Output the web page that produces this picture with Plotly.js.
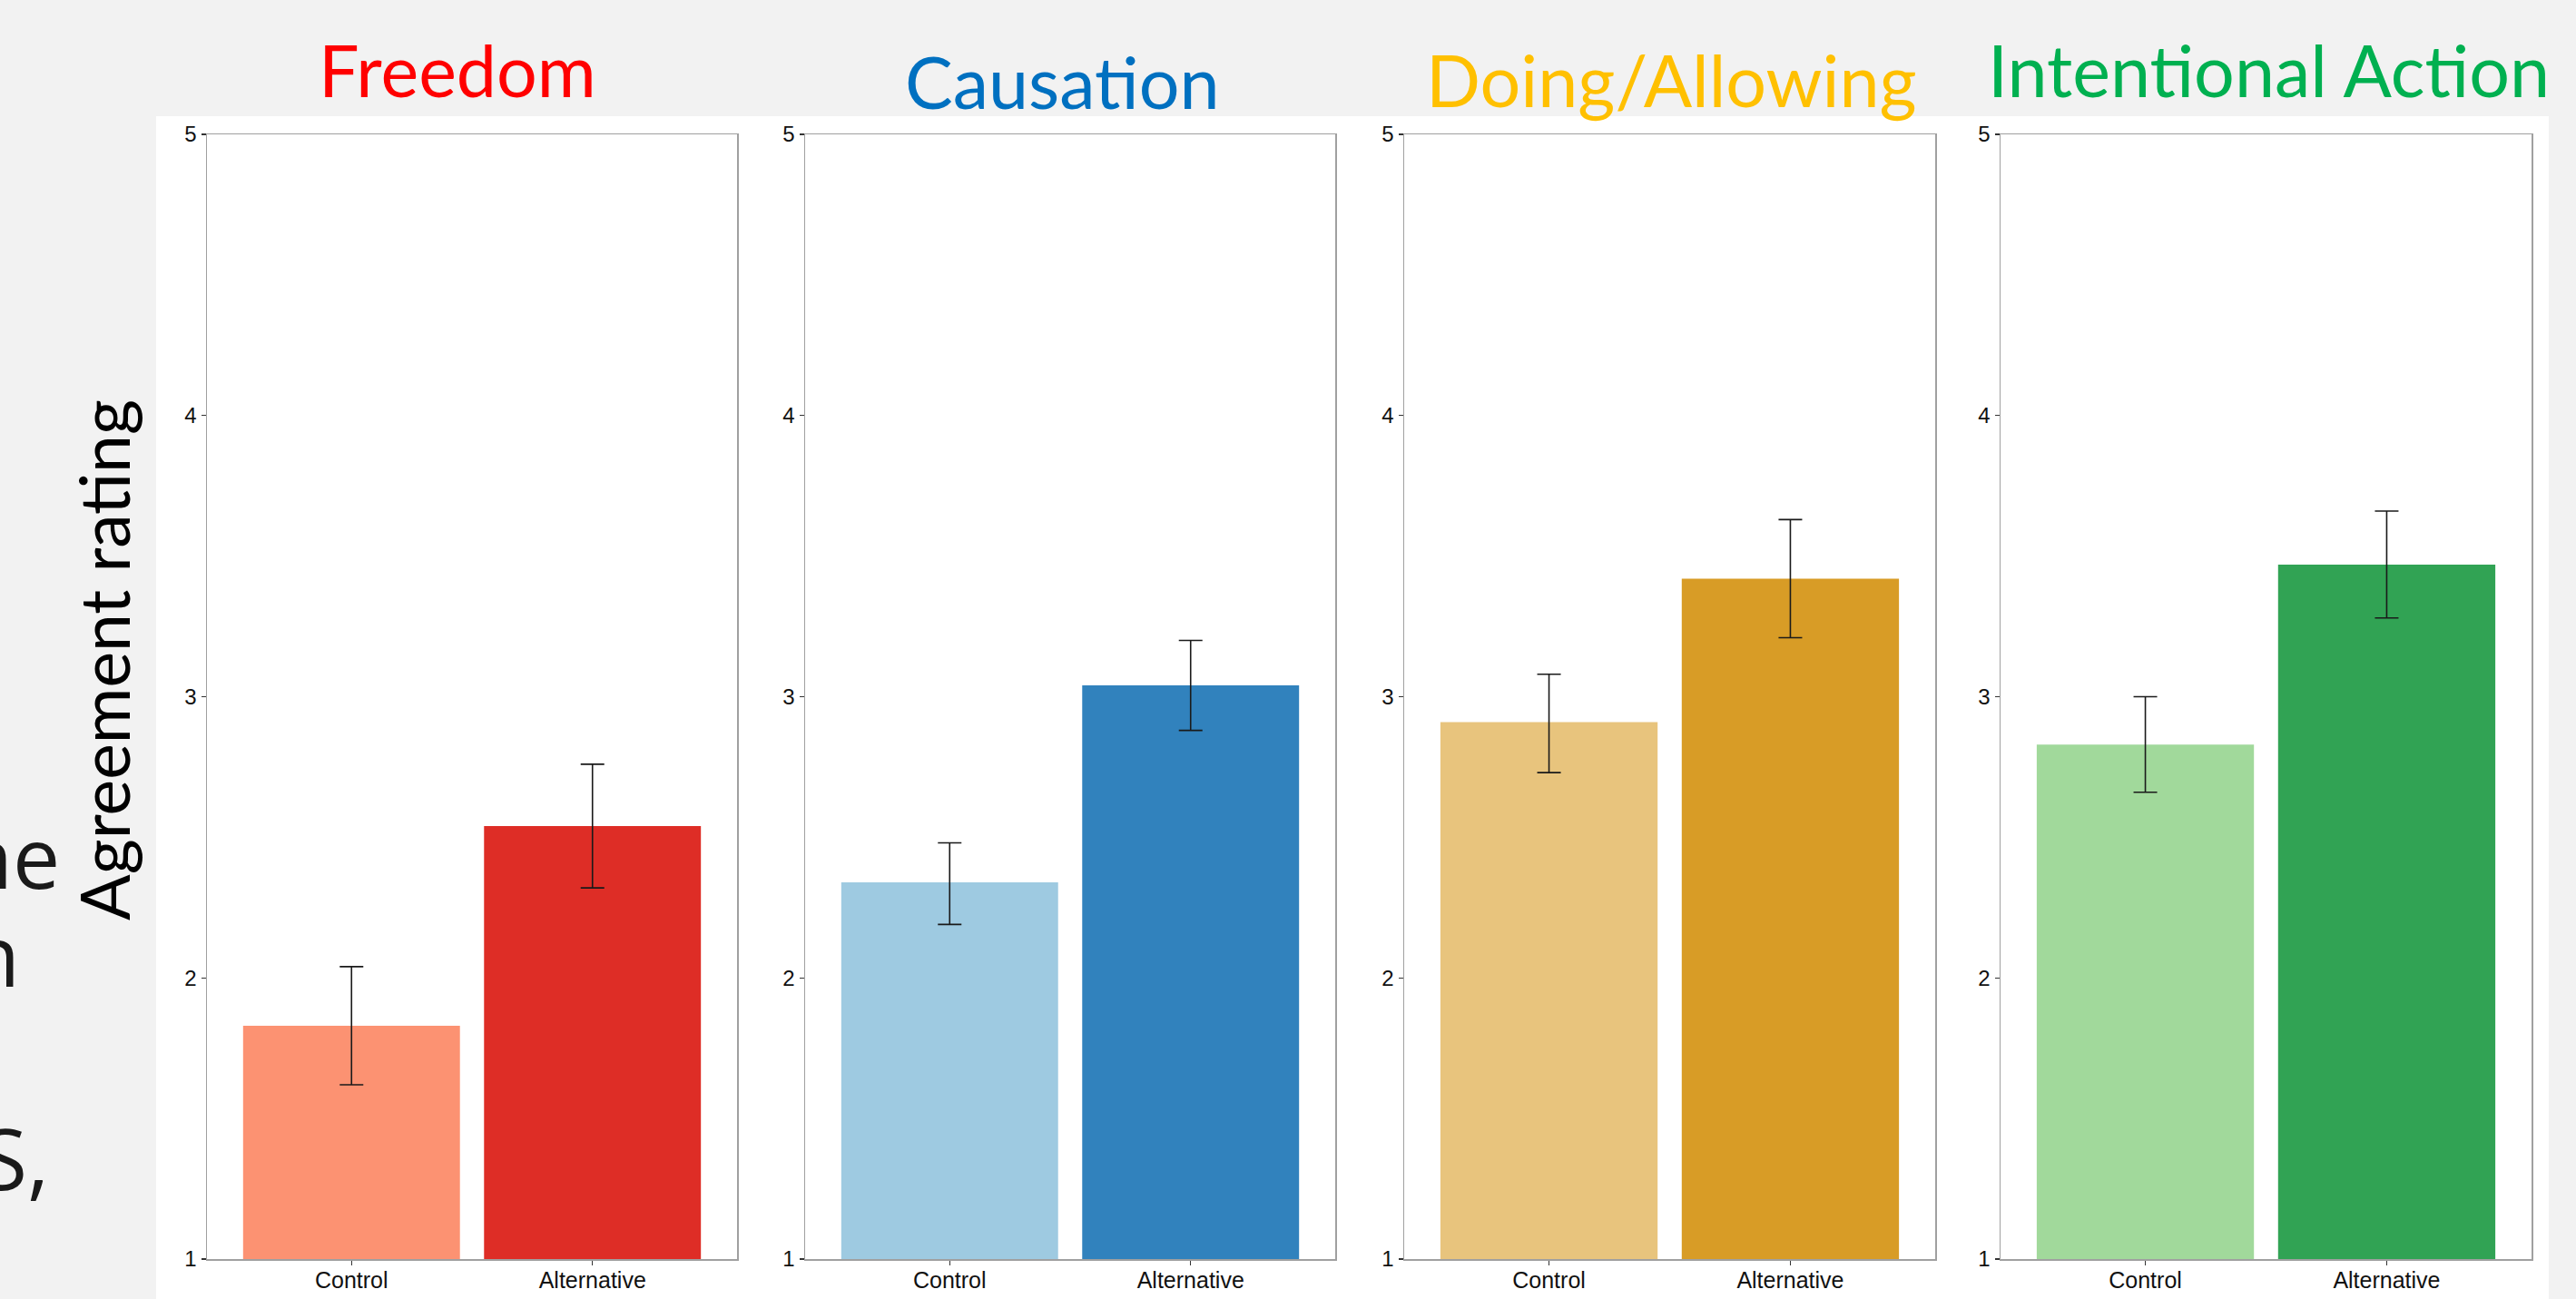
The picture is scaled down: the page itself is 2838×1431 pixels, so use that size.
<!DOCTYPE html>
<html>
<head>
<meta charset="utf-8">
<script src="https://cdn.plot.ly/plotly-3.0.1.min.js"></script>
<style>
  html, body { margin: 0; padding: 0; background: #f2f2f2; }
  #chart { width: 2838px; height: 1431px; }
</style>
</head>
<body>
<div id="chart"></div>
<script>
// ---------- data ----------
const categories = ["Control", "Alternative"];
const panelTitles = ["Freedom", "Causation", "Doing/Allowing", "Intentional Action"];
const titleColors = ["#FF0000", "#0070C0", "#FFC000", "#00B050"];

const freedomMeans = [1.83, 2.54];
const freedomUpper = [2.04, 2.76];
const freedomLower = [1.62, 2.32];

const causationMeans = [2.34, 3.04];
const causationUpper = [2.48, 3.20];
const causationLower = [2.19, 2.88];

const doingMeans = [2.91, 3.42];
const doingUpper = [3.08, 3.63];
const doingLower = [2.73, 3.21];

const intentionalMeans = [2.83, 3.47];
const intentionalUpper = [3.00, 3.66];
const intentionalLower = [2.66, 3.28];

const freedomColors = ["#FC9272", "#DE2D26"];
const causationColors = ["#9ECAE1", "#3182BD"];
const doingColors = ["#E8C47D", "#D89C26"];
const intentionalColors = ["#A1D99B", "#31A354"];

const yTickVals = [1, 2, 3, 4, 5];
const yAxisLabel = "Agreement rating";
const sideTextLines = ["ne", "n", "S,"];

// ---------- layout helpers ----------
const W = 2838, H = 1431;
const fx = v => v / W;
const fy = v => 1 - v / H;

const panelX = [[228, 812], [887, 1471], [1547, 2132], [2204, 2789]];
const plotTop = 148, plotBottom = 1387;

const means = [freedomMeans, causationMeans, doingMeans, intentionalMeans];
const uppers = [freedomUpper, causationUpper, doingUpper, intentionalUpper];
const lowers = [freedomLower, causationLower, doingLower, intentionalLower];
const colors = [freedomColors, causationColors, doingColors, intentionalColors];

const traces = [];
const layout = {
  width: W, height: H,
  margin: { l: 0, r: 0, t: 0, b: 0 },
  paper_bgcolor: "#f2f2f2",
  plot_bgcolor: "#ffffff",
  showlegend: false,
  hovermode: false,
  bargap: 0.1,
  shapes: [{
    type: "rect", xref: "paper", yref: "paper", layer: "below",
    x0: fx(172), x1: fx(2808), y0: fy(1431), y1: fy(128),
    fillcolor: "#ffffff", line: { width: 0 }
  }],
  annotations: []
};

for (let i = 0; i < 4; i++) {
  const n = i === 0 ? "" : String(i + 1);
  traces.push({
    type: "bar",
    x: categories,
    y: means[i],
    xaxis: "x" + n,
    yaxis: "y" + n,
    width: 0.9,
    marker: { color: colors[i], line: { width: 0 } },
    error_y: {
      type: "data", symmetric: false,
      array: uppers[i].map((u, k) => u - means[i][k]),
      arrayminus: lowers[i].map((l, k) => means[i][k] - l),
      color: "#1a1a1a", thickness: 1.6, width: 13
    },
    hoverinfo: "skip"
  });
  layout["xaxis" + n] = {
    domain: [fx(panelX[i][0]), fx(panelX[i][1])],
    anchor: "y" + n,
    type: "category",
    categoryorder: "array", categoryarray: categories,
    range: [-0.6, 1.6],
    showline: true, mirror: true, linecolor: "#a0a0a0", linewidth: 1.5,
    ticks: "outside", ticklen: 5, tickwidth: 1.3, tickcolor: "#333",
    ticklabelstandoff: -5,
    tickfont: { family: "Liberation Sans, Arial, sans-serif", size: 25, color: "#111" },
    showgrid: false, zeroline: false, fixedrange: true, automargin: false
  };
  layout["yaxis" + n] = {
    domain: [fy(plotBottom), fy(plotTop)],
    anchor: "x" + n,
    range: [1, 5],
    tickvals: yTickVals,
    ticktext: yTickVals.map(String),
    showline: true, mirror: true, linecolor: "#a0a0a0", linewidth: 1.5,
    ticks: "outside", ticklen: 5, tickwidth: 1.3, tickcolor: "#333",
    tickfont: { family: "Liberation Sans, Arial, sans-serif", size: 24, color: "#111" },
    showgrid: false, zeroline: false, fixedrange: true, automargin: false
  };
}

// panel titles
const titleCenters = [504, 1170, 1841, 2499];
const titleBaselines = [107, 120, 118, 107];
for (let i = 0; i < 4; i++) {
  layout.annotations.push({
    xref: "paper", yref: "paper",
    x: fx(titleCenters[i]), y: fy(titleBaselines[i] + 19),
    xanchor: "center", yanchor: "bottom",
    text: panelTitles[i], showarrow: false,
    font: { family: "Lato, Carlito, sans-serif", size: 79, color: titleColors[i] }
  });
}

// y axis label
layout.annotations.push({
  xref: "paper", yref: "paper",
  x: fx(114), y: fy(727),
  xanchor: "center", yanchor: "middle",
  text: yAxisLabel, textangle: -90, showarrow: false,
  font: { family: "Lato, Carlito, sans-serif", size: 75, color: "#000000" }
});

// cut-off slide text at left edge
const sideRight = [68, 24, 56];
const sideBase = [984, 1092, 1316];
for (let i = 0; i < sideTextLines.length; i++) {
  layout.annotations.push({
    xref: "paper", yref: "paper",
    x: fx(sideRight[i]), y: fy(sideBase[i] + 24),
    xanchor: "right", yanchor: "bottom",
    text: sideTextLines[i], showarrow: false,
    font: { family: "Open Sans, sans-serif", size: 93, color: "#1a1a1a" }
  });
}

Plotly.newPlot("chart", traces, layout, { staticPlot: true, displayModeBar: false });
</script>
</body>
</html>
